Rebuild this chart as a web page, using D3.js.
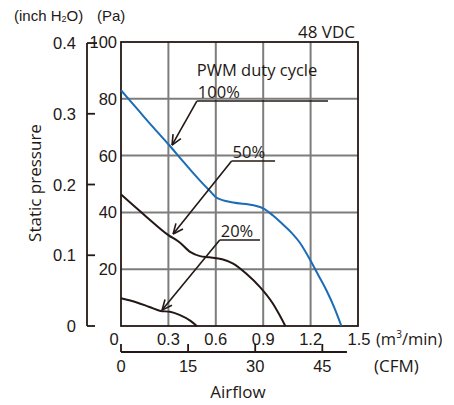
<!DOCTYPE html>
<html><head><meta charset="utf-8">
<script src="https://cdn.jsdelivr.net/npm/d3@7"></script>
<style>
body{margin:0;background:#fff;}
svg{display:block;}
.n{font-family:"Liberation Sans Narrow","Arial Narrow","Liberation Sans",sans-serif;}
.r{font-family:"Open Sans","Liberation Sans",Arial,sans-serif;}
</style></head><body>
<svg id="c" width="454" height="405"></svg>
<script>
// Data: airflow (m3/min) vs static pressure (Pa)
const flow100 = [0, 0.1, 0.2, 0.3, 0.4, 0.5, 0.56, 0.61, 0.71, 0.84, 0.9, 0.96, 1.02, 1.08, 1.13, 1.2, 1.25, 1.3, 1.35, 1.395];
const pres100 = [83, 76.6, 70.2, 64, 57.5, 51.2, 47.7, 45, 43.5, 42.5, 41.4, 39, 36, 32.8, 29.5, 23, 17.8, 12.6, 6.5, 0];
const flow50 = [0, 0.16, 0.3, 0.37, 0.44, 0.5, 0.56, 0.64, 0.71, 0.79, 0.88, 0.96, 1.0, 1.04];
const pres50 = [46.3, 38.5, 32, 29.5, 26, 24.6, 24.2, 23.5, 22, 18.6, 13.7, 8, 4.2, 0];
const flow20 = [0, 0.1, 0.18, 0.25, 0.31, 0.37, 0.44, 0.48];
const pres20 = [9.8, 8.3, 6.7, 5.3, 5, 3.9, 1.8, 0];
const paTicks = [20, 40, 60, 80, 100];
const inchTicks = [0, 0.1, 0.2, 0.3, 0.4];
const m3Ticks = [0.3, 0.6, 0.9, 1.2, 1.5];
const cfmTicks = [0, 15, 30, 45];
const labels = ["100%", "50%", "20%"];
// annotation anchors in data units: [tipQ, tipP, elbowQ, elbowP, endQ]
const annQ = [[0.323, 63.7, 0.48, 79.2, 1.31], [0.33, 32.4, 0.70, 58.1, 0.975], [0.26, 5.6, 0.625, 30.3, 0.88]];

const svg = d3.select("#c");
const x = d3.scaleLinear().domain([0, 1.5]).range([121, 358]);
const y = d3.scaleLinear().domain([0, 100]).range([326, 42]);
const PA_PER_INCH = 249.089;
const yIn = d3.scaleLinear().domain([0, 0.4]).range([y(0), y(0.4 * PA_PER_INCH)]);
const M3_PER_CFM = 0.0283168;
const xC = d3.scaleLinear().domain([0, 50.5]).range([x(0), x(50.5 * M3_PER_CFM)]);
const INK = "#231815";

// grid
const g = svg.append("g");
[0.3, 0.6, 0.9, 1.2].forEach(v => g.append("line").attr("x1", x(v)).attr("x2", x(v)).attr("y1", y(0)).attr("y2", y(100)).attr("stroke", "#7d7d7d").attr("stroke-width", 2));
[20, 40, 60, 80].forEach(v => g.append("line").attr("x1", x(0)).attr("x2", x(1.5)).attr("y1", y(v)).attr("y2", y(v)).attr("stroke", "#7d7d7d").attr("stroke-width", 2));
// frame
g.append("rect").attr("x", x(0)).attr("y", y(100)).attr("width", x(1.5) - x(0)).attr("height", y(0) - y(100))
  .attr("fill", "none").attr("stroke", INK).attr("stroke-width", 1.8);

// curves
const line = d3.line().x(d => x(d[0])).y(d => y(d[1])).curve(d3.curveMonotoneX);
const series = [[flow100, pres100, "#1b6cb7"], [flow50, pres50, INK], [flow20, pres20, INK]];
series.forEach(([f, p, c]) => {
  svg.append("path").datum(f.map((v, i) => [v, p[i]])).attr("d", line)
    .attr("fill", "none").attr("stroke", c).attr("stroke-width", 2);
});

// Pa labels
paTicks.forEach(v => svg.append("text").attr("class", "n").attr("x", 117).attr("y", y(v) + 6)
  .attr("text-anchor", "end").attr("font-size", 16.5).attr("fill", INK).text(v));
// inch axis
const ia = svg.append("g").attr("stroke", INK).attr("stroke-width", 1.8);
ia.append("line").attr("x1", 87).attr("x2", 87).attr("y1", yIn(0)).attr("y2", yIn(0.4));
inchTicks.forEach(v => ia.append("line").attr("x1", 87).attr("x2", v === 0.4 ? 97 : 95).attr("y1", yIn(v)).attr("y2", yIn(v)));
inchTicks.forEach(v => svg.append("text").attr("class", "n").attr("x", 76).attr("y", yIn(v) + 6)
  .attr("text-anchor", "end").attr("font-size", 16.5).attr("fill", INK).text(v === 0 ? "0" : v.toFixed(1)));

// headers
const h = svg.append("text").attr("class", "n").attr("x", 14).attr("y", 21).attr("font-size", 15).attr("fill", INK);
h.append("tspan").text("(inch H");
h.append("tspan").attr("font-size", 9).attr("dy", 1).text("2");
h.append("tspan").attr("dy", -1).text("O)");
svg.append("text").attr("class", "n").attr("x", 97).attr("y", 21).attr("font-size", 15).attr("fill", INK).text("(Pa)");
svg.append("text").attr("class", "r").attr("x", 355).attr("y", 38).attr("text-anchor", "end").attr("font-size", 17).attr("fill", INK).text("48 VDC");
svg.append("text").attr("class", "r").attr("transform", "translate(41,183) rotate(-90)").attr("text-anchor", "middle")
  .attr("font-size", 17).attr("fill", INK).text("Static pressure");

// x labels (m3/min)
svg.append("text").attr("class", "n").attr("x", 114).attr("y", 345).attr("text-anchor", "middle").attr("font-size", 16.5).attr("fill", INK).text("0");
m3Ticks.forEach(v => svg.append("text").attr("class", "n").attr("x", x(v) + (v === 1.5 ? 1 : 0)).attr("y", 345)
  .attr("text-anchor", "middle").attr("font-size", 16.5).attr("fill", INK).text(v.toFixed(1)));
const mu = svg.append("text").attr("class", "r").attr("x", 376).attr("y", 345).attr("font-size", 16.5).attr("fill", INK);
mu.append("tspan").text("(m");
mu.append("tspan").attr("font-size", 10).attr("dy", -7).text("3");
mu.append("tspan").attr("dy", 7).text("/min)");

// CFM axis
const ca = svg.append("g").attr("stroke", INK).attr("stroke-width", 1.8);
ca.append("line").attr("x1", xC(0)).attr("x2", xC(50.5)).attr("y1", 352).attr("y2", 352);
cfmTicks.forEach(v => ca.append("line").attr("x1", xC(v)).attr("x2", xC(v)).attr("y1", 352).attr("y2", 344));
cfmTicks.forEach(v => svg.append("text").attr("class", "n").attr("x", xC(v)).attr("y", 372)
  .attr("text-anchor", "middle").attr("font-size", 16.5).attr("fill", INK).text(v));
svg.append("text").attr("class", "r").attr("x", 374).attr("y", 372).attr("font-size", 17).attr("fill", INK).text("(CFM)");
svg.append("text").attr("class", "r").attr("x", 238).attr("y", 398).attr("text-anchor", "middle").attr("font-size", 17).attr("fill", INK).text("Airflow");

// annotations
svg.append("text").attr("class", "r").attr("x", x(0.48)).attr("y", 76).attr("font-size", 16.5).attr("fill", INK).text("PWM duty cycle");
annQ.forEach((a, i) => {
  const tx = x(a[0]), ty = y(a[1]), ex = x(a[2]), ey = y(a[3]), endx = x(a[4]);
  const ag = svg.append("g").attr("stroke", INK).attr("stroke-width", 1.6).attr("fill", "none");
  ag.append("line").attr("x1", ex).attr("y1", ey).attr("x2", endx).attr("y2", ey);
  ag.append("line").attr("x1", ex).attr("y1", ey).attr("x2", tx).attr("y2", ty);
  const ang = Math.atan2(ey - ty, ex - tx), L = 11, w = 0.42;
  [ang - w, ang + w].forEach(t => ag.append("line").attr("x1", tx).attr("y1", ty)
    .attr("x2", tx + L * Math.cos(t)).attr("y2", ty + L * Math.sin(t)));
  svg.append("text").attr("class", "r").attr("x", ex + 1).attr("y", ey - 3).attr("font-size", 16.5).attr("fill", INK).text(labels[i]);
});
</script>
</body></html>
